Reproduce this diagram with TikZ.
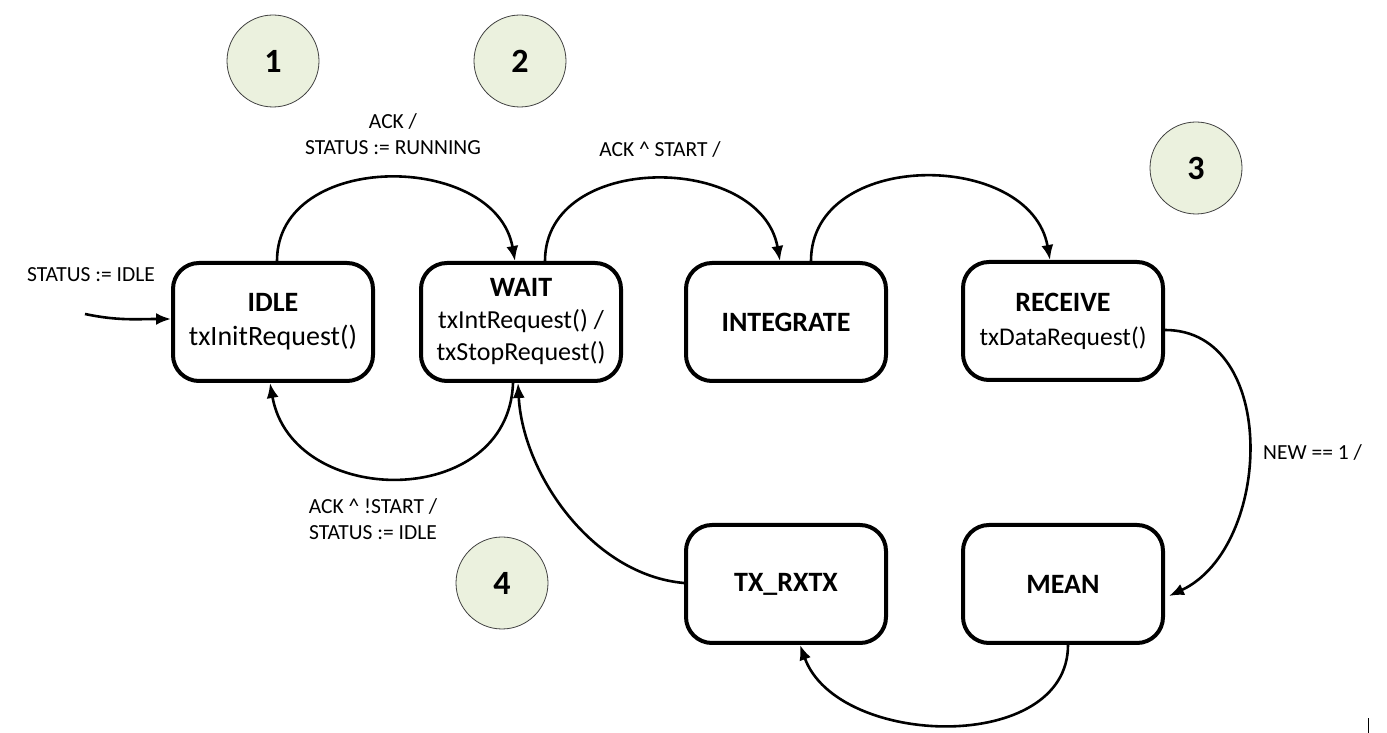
\documentclass[tikz,border=0pt]{standalone}
\usepackage{fontspec}
\setmainfont{Carlito}
\usetikzlibrary{arrows.meta}
\definecolor{circfill}{HTML}{EBF1DE}
\tikzset{
  state/.style={draw, line width=4pt, rounded corners=26pt, minimum width=200pt, minimum height=118pt, align=center, fill=white, inner sep=0pt, font=\fontsize{28}{34}\selectfont},
  marker/.style={circle, draw=black!75, line width=0.8pt, fill=circfill, minimum size=92pt, inner sep=0pt, font=\fontsize{34}{34}\selectfont\bfseries},
  lbl/.style={align=center, font=\fontsize{21.5}{26}\selectfont, inner sep=0pt},
  trans/.style={line width=2.6pt, -{Latex[length=15pt,width=12pt]}},
}
\begin{document}
\begin{tikzpicture}[x=1pt,y=1pt]
\useasboundingbox (0,0) rectangle (1387,733);
% states
\node[state] (idle) at (273,411) {\textbf{IDLE}\\txInitRequest()};
\node[state, font=\fontsize{26}{32}\selectfont] (wait) at (521,411) {\textbf{\fontsize{28}{32}\selectfont WAIT}\\txIntRequest() /\\txStopRequest()};
\node[state] (integ) at (786,411) {\textbf{INTEGRATE}};
\node[state, font=\fontsize{25.5}{34}\selectfont] (recv) at (1063,412) {\textbf{\fontsize{28}{34}\selectfont RECEIVE}\\txDataRequest()};
\node[state] (txrx) at (786,149) {\textbf{TX\_RXTX}};
\node[state] (mean) at (1063,149) {\textbf{MEAN}};
% markers
\node[marker] (m1) at (273,672) {1};
\node[marker] (m2) at (520,672) {2};
\node[marker] (m3) at (1196,565) {3};
\node[marker] (m4) at (502,150) {4};
% initial
\coordinate (init) at (85,419);
\draw[trans] (init) to[out=-12,in=180] ([yshift=3pt]idle.west);
% transitions
\draw[trans] ([xshift=4pt]idle.north) to[out=90,in=100,looseness=1.2] ([xshift=-6pt]wait.north);
\draw[trans] ([xshift=24pt]wait.north) to[out=90,in=100,looseness=1.2] ([xshift=-6pt]integ.north);
\draw[trans] ([xshift=25pt]integ.north) to[out=90,in=100,looseness=1.2] ([xshift=-13pt]recv.north);
\draw[trans] ([yshift=-9pt]recv.east) to[out=0,in=25,looseness=1.1] ([xshift=4pt,yshift=-12pt]mean.east);
\draw[trans] ([xshift=5pt]mean.south) to[out=-90,in=-70,looseness=1.05] ([xshift=14pt]txrx.south);
\draw[trans] ([yshift=1pt]txrx.west) to[out=175,in=-87,looseness=0.9] ([xshift=-3pt]wait.south);
\draw[trans] ([xshift=-8pt]wait.south) to[out=-92,in=-80,looseness=1.35] ([xshift=-3pt]idle.south);
% labels
\node[lbl] (l0) at (91,458) {STATUS := IDLE};
\node[lbl] (l1) at (393,599) {ACK /\\STATUS := RUNNING};
\node[lbl] (l2) at (660,583) {ACK \^{} START /};
\node[lbl] (l3) at (373,214) {ACK \^{} !START /\\STATUS := IDLE};
\node[lbl, anchor=west] (l4) at (1263,281) {NEW == 1 /};
% stray mark
\draw[line width=0.8pt] (1368,0) -- (1368,15);
\end{tikzpicture}
\end{document}
